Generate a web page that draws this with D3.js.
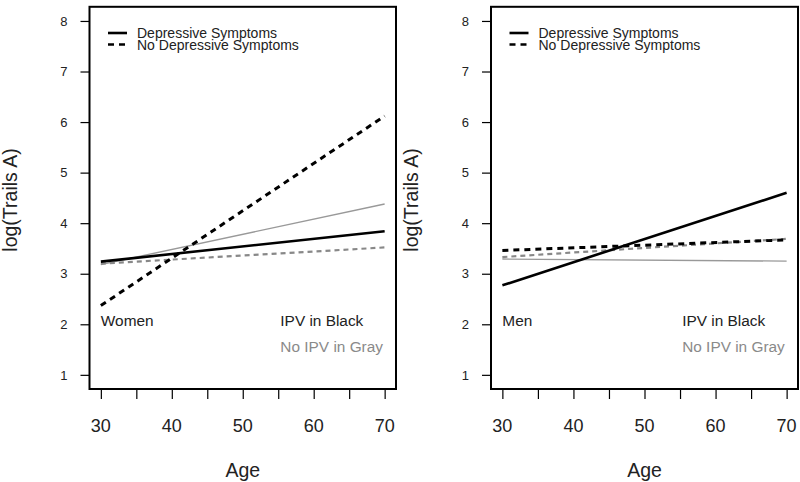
<!DOCTYPE html>
<html>
<head>
<meta charset="utf-8">
<script src="https://cdn.jsdelivr.net/npm/d3@7"></script>
<style>
  html, body { margin: 0; padding: 0; background: #fff; }
  svg { display: block; font-family: "Liberation Sans", Arial, Helvetica, sans-serif; }
</style>
</head>
<body>
<svg id="chart" width="800" height="482"></svg>
<script>
// ---- data ----
const ages = [30, 70];
const xTicksMajor = [30, 40, 50, 60, 70];
const xTicksMinor = [30, 35, 40, 45, 50, 55, 60, 65, 70];
const yTicks = [1, 2, 3, 4, 5, 6, 7, 8];

// Women
const womenIpvDep     = [3.24, 3.84];
const womenIpvNoDep   = [2.37, 6.12];
const womenNoIpvDep   = [3.18, 4.38];
const womenNoIpvNoDep = [3.20, 3.52];
// Men
const menIpvDep     = [2.77, 4.60];
const menIpvNoDep   = [3.46, 3.67];
const menNoIpvDep   = [3.29, 3.25];
const menNoIpvNoDep = [3.33, 3.69];

const legendLabels = ["Depressive Symptoms", "No Depressive Symptoms"];
const groupLabels = ["Women", "Men"];
const ipvLabel = "IPV in Black";
const noIpvLabel = "No IPV in Gray";
const xTitle = "Age";
const yTitle = "log(Trails A)";

const panels = [
  { label: groupLabels[0], series: [womenNoIpvDep, womenNoIpvNoDep, womenIpvDep, womenIpvNoDep], left: 89.5, right: 396 },
  { label: groupLabels[1], series: [menNoIpvDep, menNoIpvNoDep, menIpvDep, menIpvNoDep], left: 491, right: 798 }
];
const styles = [
  { stroke: "#999", width: 1.4, dash: null },
  { stroke: "#888", width: 2.2, dash: "5,4" },
  { stroke: "#000", width: 2.6, dash: null },
  { stroke: "#000", width: 3, dash: "6,5" }
];

const svg = d3.select("#chart");
const plotTop = 6.8, plotBottom = 389;

panels.forEach(p => {
  const x = d3.scaleLinear().domain([28.4, 71.6]).range([p.left, p.right]);
  const y = d3.scaleLinear().domain([0.72, 8.28]).range([plotBottom, plotTop]);
  const g = svg.append("g");

  // lines
  const line = d3.line().x(d => x(d[0])).y(d => y(d[1]));
  p.series.forEach((s, i) => {
    const st = styles[i];
    g.append("path")
      .datum(ages.map((a, j) => [a, s[j]]))
      .attr("d", line)
      .attr("fill", "none")
      .attr("stroke", st.stroke)
      .attr("stroke-width", st.width)
      .attr("stroke-dasharray", st.dash);
  });

  // box
  g.append("rect")
    .attr("x", p.left).attr("y", plotTop)
    .attr("width", p.right - p.left).attr("height", plotBottom - plotTop)
    .attr("fill", "none").attr("stroke", "#000").attr("stroke-width", 2);

  // x axis
  const xAxis = d3.axisBottom(x).tickValues(xTicksMinor).tickSize(10).tickFormat("");
  const xa = g.append("g").attr("transform", `translate(0,${plotBottom})`).call(xAxis);
  xa.select(".domain").remove();
  xa.selectAll("line").attr("stroke", "#000").attr("stroke-width", 1.2);
  g.selectAll(".xlab").data(xTicksMajor).enter().append("text")
    .attr("x", d => x(d)).attr("y", 432)
    .attr("text-anchor", "middle").attr("font-size", 18).attr("fill", "#222")
    .text(d => d);

  // y axis
  const yAxis = d3.axisLeft(y).tickValues(yTicks).tickSize(9).tickPadding(13);
  const ya = g.append("g").attr("transform", `translate(${p.left},0)`).call(yAxis);
  ya.select(".domain").remove();
  ya.selectAll("line").attr("stroke", "#000").attr("stroke-width", 1.2);
  ya.selectAll("text").attr("font-size", 13).attr("fill", "#222")
    .attr("font-family", '"Liberation Sans", Arial, sans-serif');

  // axis titles
  g.append("text")
    .attr("x", x(50)).attr("y", 477)
    .attr("text-anchor", "middle").attr("font-size", 19.5).attr("fill", "#222")
    .text(xTitle);
  g.append("text")
    .attr("transform", `translate(${p.left - 73},200) rotate(-90)`)
    .attr("text-anchor", "middle").attr("font-size", 19.5).attr("fill", "#222")
    .text(yTitle);

  // legend
  const lx = p.left + 18.5;
  g.append("line").attr("x1", lx).attr("x2", lx + 19).attr("y1", 33).attr("y2", 33)
    .attr("stroke", "#000").attr("stroke-width", 2.6);
  g.append("line").attr("x1", lx).attr("x2", lx + 19).attr("y1", 44.5).attr("y2", 44.5)
    .attr("stroke", "#000").attr("stroke-width", 2.6).attr("stroke-dasharray", "6,5");
  g.append("text").attr("x", lx + 29).attr("y", 37.5).attr("font-size", 14).attr("fill", "#222").text(legendLabels[0]);
  g.append("text").attr("x", lx + 29).attr("y", 49.5).attr("font-size", 14).attr("fill", "#222").text(legendLabels[1]);

  // annotations
  g.append("text").attr("x", x(30)).attr("y", 326).attr("font-size", 15.4).attr("fill", "#222").text(p.label);
  g.append("text").attr("x", x(55.3)).attr("y", 326).attr("font-size", 15.4).attr("fill", "#222").text(ipvLabel);
  g.append("text").attr("x", x(55.3)).attr("y", 351.5).attr("font-size", 15.4).attr("fill", "#8a8a8a").text(noIpvLabel);
});
</script>
</body>
</html>
